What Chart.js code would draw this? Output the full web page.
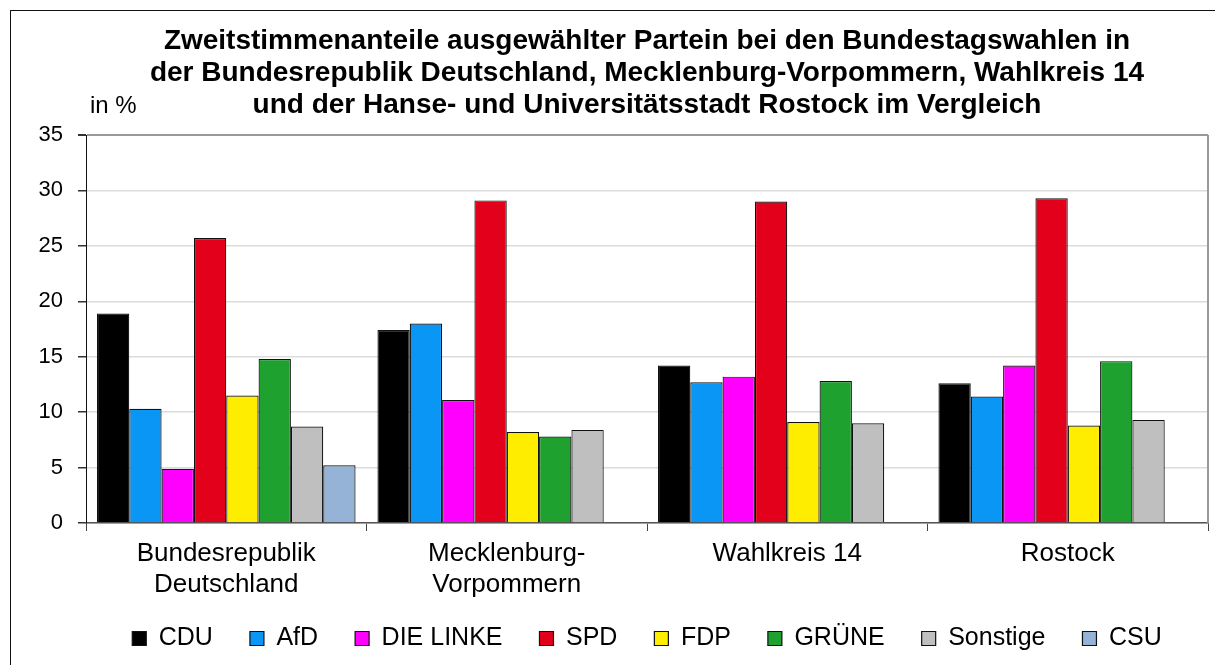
<!DOCTYPE html>
<html lang="de">
<head>
  <meta charset="utf-8" />
  <title>Zweitstimmenanteile</title>
  <style>
html, body {
  margin: 0;
  overflow: hidden;
  background: #fff;
}
#frame {
  position: absolute;
  left: 10px;
  top: 10px;
  width: 1300px;
  height: 700px;
  border: 1px solid #111;
}
#myChart {
  position: absolute;
  left: 11px;
  top: 11px;
}
  </style>
</head>
<body>
  <div id="frame"></div>
  <canvas id="myChart" width="1238" height="673"></canvas>
  <script src="https://cdn.jsdelivr.net/npm/chart.js"></script>
  <script>

const regions = [['Bundesrepublik', 'Deutschland'], ['Mecklenburg-', 'Vorpommern'], 'Wahlkreis 14', 'Rostock'];
const parties = ['CDU', 'AfD', 'DIE LINKE', 'SPD', 'FDP', 'GRÜNE', 'Sonstige', 'CSU'];
const partyColors = ['#000000', '#0996f5', '#ff00ff', '#e2001a', '#ffed00', '#1fa12f', '#bfbfbf', '#95b3d7'];

// Anteile in % je Gebiet (BRD, M-V, WK 14, Rostock)
const cdu      = [18.9, 17.4, 14.2, 12.6];
const afd      = [10.3, 18.0, 12.7, 11.4];
const linke    = [4.9, 11.1, 13.2, 14.2];
const spd      = [25.7, 29.1, 29.0, 29.3];
const fdp      = [11.5, 8.2, 9.1, 8.8];
const gruene   = [14.8, 7.8, 12.8, 14.6];
const sonstige = [8.7, 8.4, 9.0, 9.3];
const csu      = [5.2, null, null, null];

const yTicks = [0, 5, 10, 15, 20, 25, 30, 35];

const titleLines = [
  'Zweitstimmenanteile ausgewählter Partein bei den Bundestagswahlen in',
  'der Bundesrepublik Deutschland, Mecklenburg-Vorpommern, Wahlkreis 14',
  'und der Hanse- und Universitätsstadt Rostock im Vergleich'
];
const unitLabel = 'in %';

Chart.defaults.font.family = '"Liberation Sans", Arial, sans-serif';
Chart.defaults.color = '#000';

const series = [cdu, afd, linke, spd, fdp, gruene, sonstige, csu];
const datasets = parties.map(function (name, i) {
  return {
    label: name,
    data: series[i],
    backgroundColor: partyColors[i],
    borderColor: '#111',
    borderWidth: 1.2,
    categoryPercentage: 0.922,
    barPercentage: 1.0
  };
});

// "in %" oben links, rechter Rahmen der Zeichenfläche, Legende etwas näher an die Achse
const extras = {
  id: 'extras',
  afterLayout(chart) {
    if (chart.legend) {
      chart.legend.top -= 18;
      chart.legend.bottom -= 18;
    }
  },
  afterDraw(chart) {
    const ctx = chart.ctx;
    const area = chart.chartArea;
    ctx.save();
    ctx.strokeStyle = '#999';
    ctx.lineWidth = 2;
    ctx.beginPath();
    ctx.moveTo(area.right, area.top);
    ctx.lineTo(area.right, area.bottom);
    ctx.stroke();
    ctx.fillStyle = '#000';
    ctx.font = '24px "Liberation Sans", Arial, sans-serif';
    ctx.textAlign = 'left';
    ctx.textBaseline = 'middle';
    ctx.fillText(unitLabel, area.left + 4, 95);
    ctx.restore();
  }
};

const config = {
  type: 'bar',
  data: {
    labels: regions,
    datasets: datasets
  },
  options: {
    responsive: false,
    animation: false,
    layout: {
      padding: {left: 0, right: 41, top: 0, bottom: 5}
    },
    plugins: {
      title: {
        display: true,
        text: titleLines,
        fullSize: false,
        color: '#000',
        font: {size: 28, weight: 'bold', lineHeight: 32 / 28},
        padding: {top: 14, bottom: 14}
      },
      legend: {
        position: 'bottom',
        fullSize: false,
        labels: {
          boxWidth: 14,
          boxHeight: 14,
          padding: 37,
          color: '#000',
          font: {size: 25}
        }
      },
      tooltip: {enabled: false}
    },
    scales: {
      x: {
        grid: {
          display: true,
          drawOnChartArea: false,
          offset: true,
          tickLength: 8,
          tickColor: '#444'
        },
        border: {color: '#555', width: 1.5},
        ticks: {
          color: '#000',
          padding: 7,
          maxRotation: 0,
          autoSkip: false,
          font: {size: 26, lineHeight: 31 / 26}
        },
        afterFit: function (scale) {
          scale.paddingLeft = 0;
          scale.paddingRight = 0;
        }
      },
      y: {
        min: 0,
        max: 35,
        afterBuildTicks: function (scale) {
          scale.ticks = yTicks.map(v => ({value: v}));
        },
        afterFit: function (scale) {
          scale.width = 75;
        },
        grid: {
          color: ctx => ctx.tick.value === 35 ? '#999' : '#dcdcdc',
          lineWidth: ctx => ctx.tick.value === 35 ? 2 : 1.5,
          tickLength: 8,
          tickColor: '#333'
        },
        border: {color: '#111', width: 1},
        ticks: {
          color: '#000',
          padding: 15,
          font: {size: 22}
        }
      }
    }
  },
  plugins: [extras]
};

const chart = new Chart(document.getElementById('myChart'), config);

  </script>
</body>
</html>
